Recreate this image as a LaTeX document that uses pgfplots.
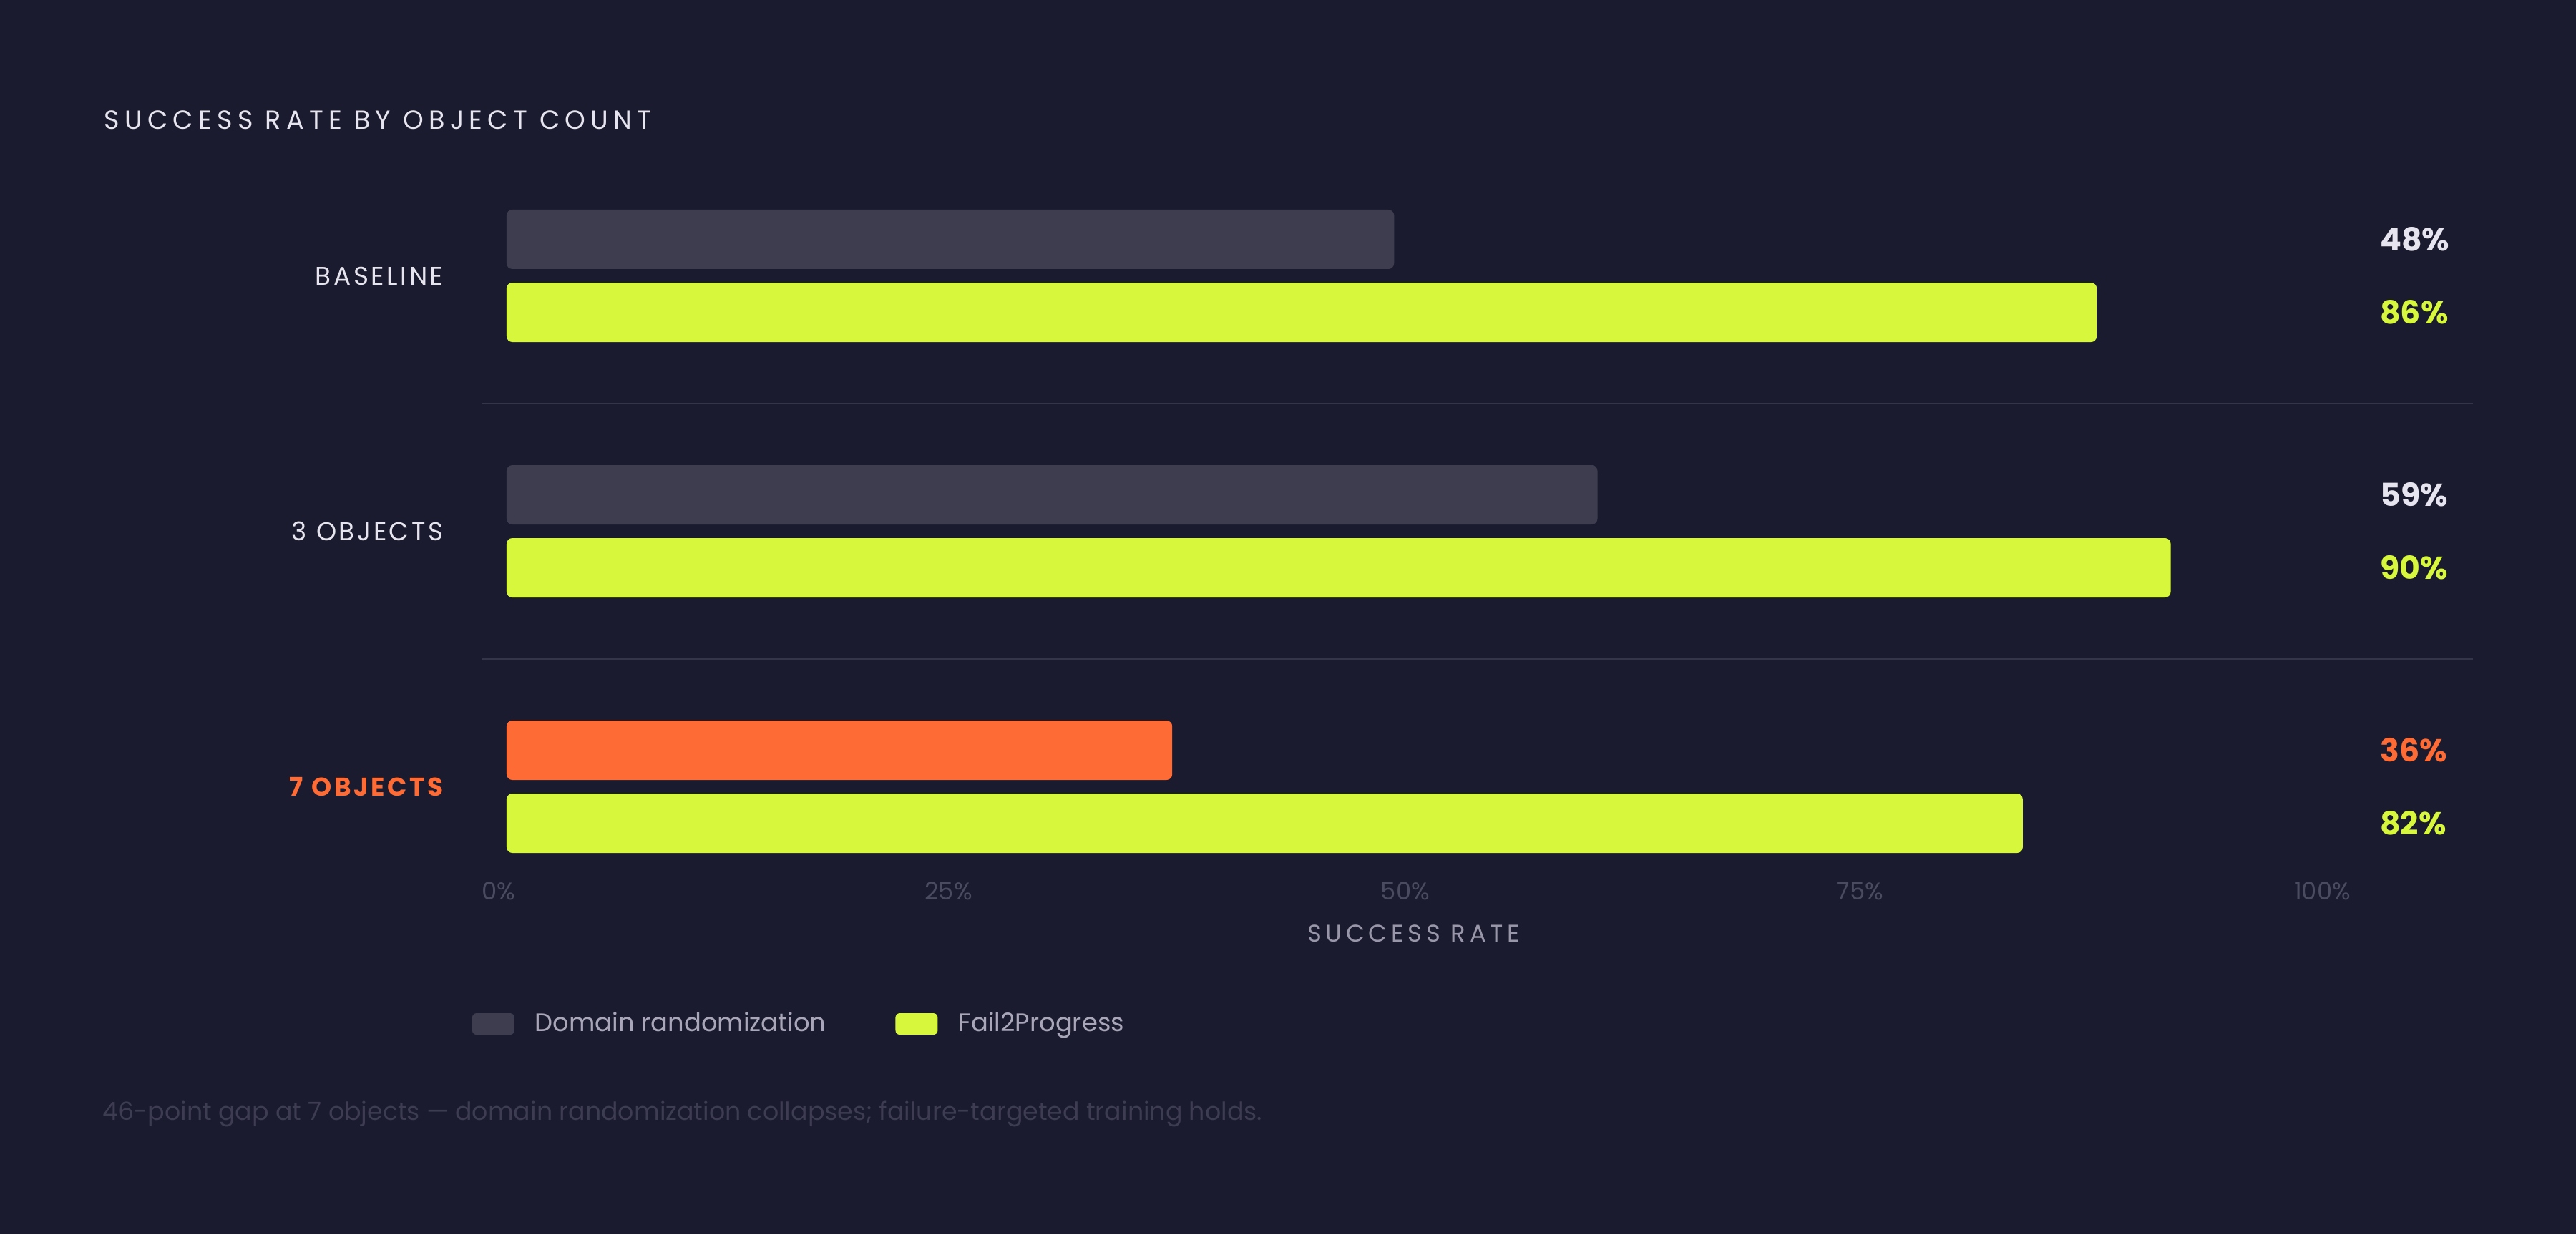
\documentclass[border=0pt]{standalone}
\usepackage{pgfplots}
\pgfplotsset{compat=1.18}
\usepackage{pgfplotstable}
\usepackage{fontspec}
\setmainfont{Poppins}
\newfontfamily\trackfont[LetterSpace=20]{Poppins}
\newfontfamily\xlabfont[LetterSpace=17]{Poppins}
\newfontfamily\catfont[LetterSpace=10]{Poppins}

\definecolor{bg}{HTML}{1A1B2E}
\definecolor{drgray}{HTML}{3E3D50}
\definecolor{fgreen}{HTML}{D7F73D}
\definecolor{dorange}{HTML}{FF6B35}
\definecolor{txtwhite}{HTML}{E6E4EE}
\definecolor{tickcol}{HTML}{4A4A60}
\definecolor{labcol}{HTML}{9896A8}
\definecolor{legcol}{HTML}{A8A6B8}
\definecolor{notecol}{HTML}{3D3C52}
\definecolor{sepcol}{HTML}{35354A}

% y: group index (0 baseline, 1 three objects, 2 seven objects), offset per series
\pgfplotstableread{
y       v
-0.1429 48
0.8571  59
}\drdata
\pgfplotstableread{
y       v
1.8571  36
}\drseven
\pgfplotstableread{
y       v
0.1429  86
1.1429  90
2.1429  82
}\ftpdata

\begin{document}
\begin{tikzpicture}
\useasboundingbox (0,0) rectangle (36cm,17.25cm);
\fill[bg] (0,0) rectangle (36cm,17.25cm);

\node[anchor=west, inner sep=0pt, text=txtwhite, font=\trackfont\fontsize{10.4}{12}\selectfont]
  at (1.45cm,15.57cm) {SUCCESS RATE BY OBJECT COUNT};

\begin{axis}[
    at={(6.73cm,4.47cm)}, anchor=south west,
    scale only axis,
    width=27.83cm, height=10.71cm,
    xmin=-1.354, xmax=106.35,
    ymin=-0.5, ymax=2.5,
    y dir=reverse,
    clip=false,
    axis line style={draw=none},
    major tick length=0pt,
    /pgf/number format/assume math mode=true,
    xtick={-0.43,23.9,48.6,73.2,98.2},
    xticklabels={0\%,25\%,50\%,75\%,100\%},
    xticklabel style={font=\fontsize{9.6}{11}\selectfont, text=tickcol, anchor=center, yshift=0.33cm},
    ytick={0,1,2},
    yticklabels={BASELINE,3 OBJECTS,{\color{dorange}\bfseries 7 OBJECTS}},
    yticklabel style={font=\catfont\fontsize{10.2}{12}\selectfont, text=txtwhite, anchor=east, inner sep=0pt, xshift=-0.53cm},
    extra y ticks={0.5,1.5},
    extra y tick labels={},
    extra y tick style={grid=major, major grid style={draw=sepcol, line width=0.6pt}},
    xlabel={SUCCESS RATE},
    xlabel style={font=\xlabfont\fontsize{9.6}{11}\selectfont, text=labcol, at={(axis description cs:0.468,0)}, anchor=center, yshift=-0.27cm},
    legend style={at={(axis description cs:-0.0047,-0.1429)}, anchor=west, draw=none, fill=none,
        inner sep=0pt, outer sep=0pt, legend columns=2,
        font=\fontsize{10.05}{12}\selectfont, text=legcol,
        /tikz/every odd column/.append style={column sep=0.22cm},
        /tikz/every even column/.append style={column sep=0.9cm}},
    legend cell align=left,
]
\addplot[xbar, bar shift=0pt, bar width=0.83cm, fill=drgray, draw=none, rounded corners=0.08cm,
    legend image code/.code={\fill[drgray, rounded corners=0.06cm] (0cm,-0.15cm) rectangle (0.59cm,0.15cm);}]
    table[x=v, y=y] {\drdata};
\addplot[xbar, bar shift=0pt, bar width=0.83cm, fill=fgreen, draw=none, rounded corners=0.08cm,
    legend image code/.code={\fill[fgreen, rounded corners=0.06cm] (0cm,-0.15cm) rectangle (0.59cm,0.15cm);}]
    table[x=v, y=y] {\ftpdata};
\addplot[xbar, bar shift=0pt, bar width=0.83cm, fill=dorange, draw=none, rounded corners=0.08cm, forget plot]
    table[x=v, y=y] {\drseven};

% value labels at the right
\addplot[draw=none, mark=none, forget plot, point meta=explicit,
    nodes near coords={\pgfmathprintnumber{\pgfplotspointmeta}\%},
    every node near coord/.style={anchor=west, inner sep=0pt, text=txtwhite, font=\bfseries\fontsize{12.6}{14}\selectfont}]
    table[x expr=101.3, y=y, meta=v] {\drdata};
\addplot[draw=none, mark=none, forget plot, point meta=explicit,
    nodes near coords={\pgfmathprintnumber{\pgfplotspointmeta}\%},
    every node near coord/.style={anchor=west, inner sep=0pt, text=dorange, font=\bfseries\fontsize{12.6}{14}\selectfont}]
    table[x expr=101.3, y=y, meta=v] {\drseven};
\addplot[draw=none, mark=none, forget plot, point meta=explicit,
    nodes near coords={\pgfmathprintnumber{\pgfplotspointmeta}\%},
    every node near coord/.style={anchor=west, inner sep=0pt, text=fgreen, font=\bfseries\fontsize{12.6}{14}\selectfont}]
    table[x expr=101.3, y=y, meta=v] {\ftpdata};
\legend{Domain randomization, Fail2Progress}
\end{axis}

\node[anchor=base west, inner sep=0pt, text=notecol, font=\fontsize{9.9}{11}\selectfont]
  at (1.43cm,1.60cm) {46-point gap at 7 objects — domain randomization collapses; failure-targeted training holds.};
\end{tikzpicture}
\end{document}
